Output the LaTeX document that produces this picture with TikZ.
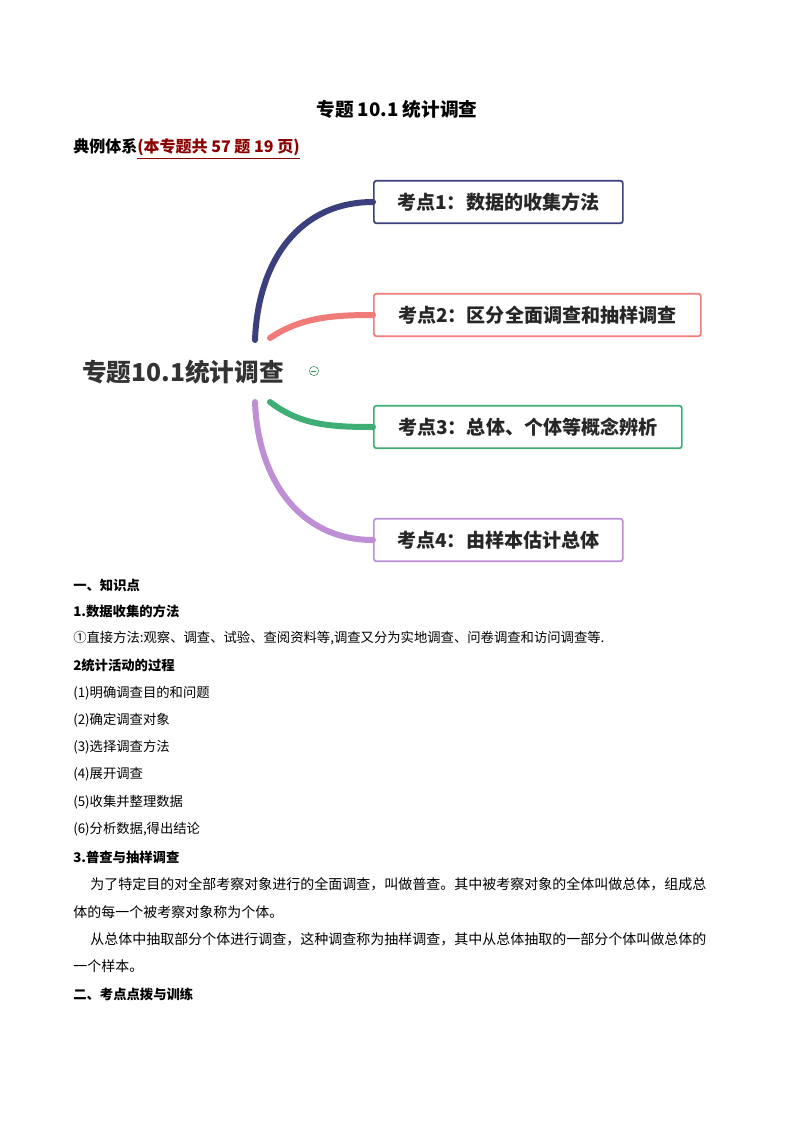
\documentclass[tikz,border=0pt]{standalone}
\usepackage{fontspec}
\setmainfont{Noto Sans CJK SC}
\definecolor{c1}{HTML}{3B3F7E}
\definecolor{c2}{HTML}{F07B78}
\definecolor{c3}{HTML}{3FAE74}
\definecolor{c4}{HTML}{BF8FD6}
\definecolor{dred}{HTML}{8B0000}
\begin{document}
\begin{tikzpicture}[x=0.75pt,y=-0.75pt,
  kbox/.style={draw,line width=1.3pt,rounded corners=2pt,anchor=west,minimum height=32pt,inner xsep=14pt,font=\fontsize{14.3}{16}\selectfont\bfseries,text=black!85},
  body/.style={anchor=west,inner sep=0pt,font=\fontsize{10}{12}\selectfont},
  para/.style={anchor=west,inner sep=0pt,font=\fontsize{10.5}{12}\selectfont},
  hd/.style={anchor=west,inner sep=0pt,font=\fontsize{10}{12}\selectfont\bfseries},
  curve/.style={line width=4.5pt,line cap=round}]
\useasboundingbox (0,0) rectangle (794,1123);
\node[font=\fontsize{14}{16}\selectfont\bfseries] (title) at (397,109) {专题 10.1 统计调查};
\node[hd,font=\fontsize{12}{14}\selectfont\bfseries] (sub) at (73,149) {典例体系\textcolor{dred}{\underline{(本专题共 57 题 19 页)}}};
\node[kbox,draw=c1,minimum width=249*0.75pt] (k1) at (373,202) {考点1：数据的收集方法};
\node[kbox,draw=c2,minimum width=327*0.75pt] (k2) at (373,315) {考点2：区分全面调查和抽样调查};
\node[kbox,draw=c3,minimum width=308*0.75pt] (k3) at (373,427) {考点3：总体、个体等概念辨析};
\node[kbox,draw=c4,minimum width=249*0.75pt] (k4) at (373,540) {考点4：由样本估计总体};
\node[anchor=west,inner sep=0pt,font=\fontsize{18.5}{20}\selectfont\bfseries,text=black!80] (root) at (82,372) {专题10.1统计调查};
\node[draw=c3!80!black,circle,inner sep=0pt,minimum size=7pt,font=\tiny] (m) at (314,371) {};
\draw[c3!80!black,line width=0.5pt] (m.west)++(1.5pt,0) -- ++(4pt,0);
\coordinate (r1) at (255,340);
\coordinate (r2) at (270,338);
\coordinate (r3) at (270,402);
\coordinate (r4) at (255,402);
\draw[curve,c1] (r1) .. controls (258,260) and (300,202) .. (k1.west);
\draw[curve,c2] (r2) .. controls (300,318) and (330,315) .. (k2.west);
\draw[curve,c3] (r3) .. controls (300,425) and (330,427) .. (k3.west);
\draw[curve,c4] (r4) .. controls (258,480) and (300,540) .. (k4.west);
\node[hd] (h0) at (73,585) {一、知识点};
\node[hd] (h1) at (73,611) {1.数据收集的方法};
\node[body] (t1) at (73,638) {①直接方法:观察、调查、试验、查阅资料等,调查又分为实地调查、问卷调查和访问调查等.};
\node[hd] (h2) at (73,665) {2统计活动的过程};
\node[body] (s1) at (73,693) {(1)明确调查目的和问题};
\node[body] (s2) at (73,720) {(2)确定调查对象};
\node[body] (s3) at (73,747) {(3)选择调查方法};
\node[body] (s4) at (73,774) {(4)展开调查};
\node[body] (s5) at (73,802) {(5)收集并整理数据};
\node[body] (s6) at (73,829) {(6)分析数据,得出结论};
\node[hd] (h3) at (73,857) {3.普查与抽样调查};
\node[para] (p1) at (90,884) {为了特定目的对全部考察对象进行的全面调查，叫做普查。其中被考察对象的全体叫做总体，组成总};
\node[para] (p2) at (73,912) {体的每一个被考察对象称为个体。};
\node[para] (p3) at (90,939) {从总体中抽取部分个体进行调查，这种调查称为抽样调查，其中从总体抽取的一部分个体叫做总体的};
\node[para] (p4) at (73,966) {一个样本。};
\node[hd] (h4) at (73,994) {二、考点点拨与训练};
\end{tikzpicture}
\end{document}
